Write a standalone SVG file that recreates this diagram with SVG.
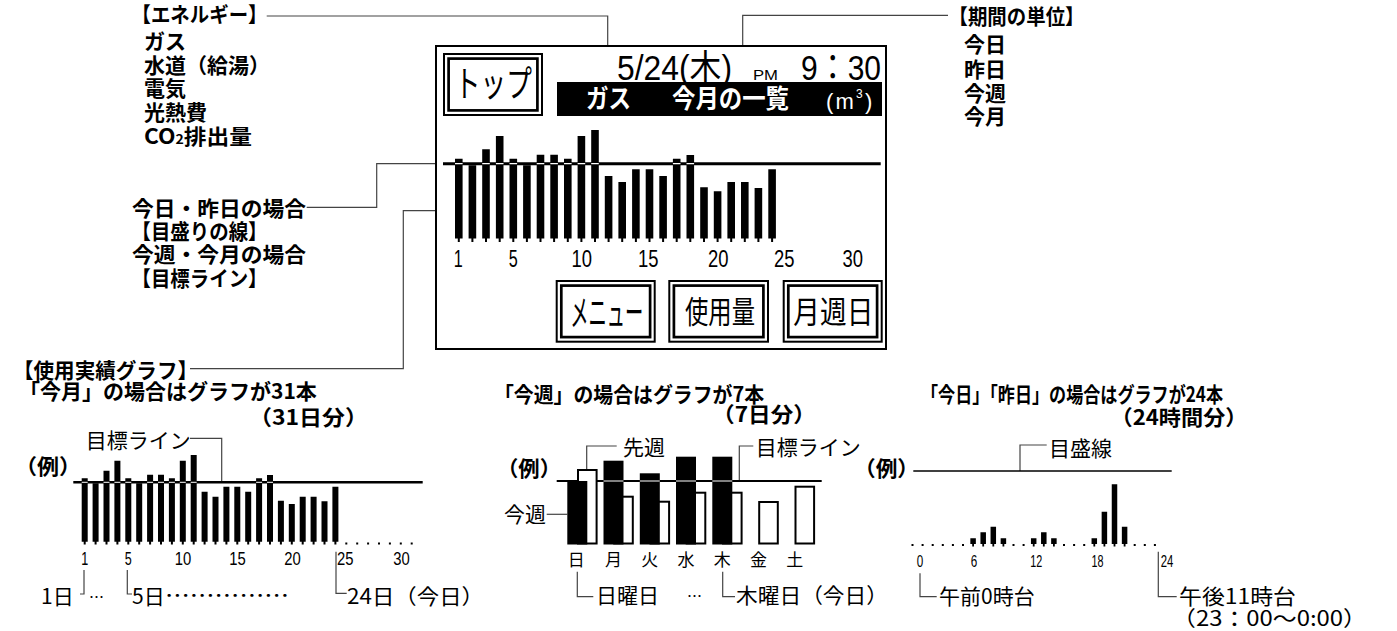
<svg xmlns="http://www.w3.org/2000/svg" width="1397" height="631" viewBox="0 0 1397 631">
<style>
.jb{font-family:'Noto Sans CJK JP','Noto Sans',sans-serif;font-weight:bold;fill:#000}
.jr{font-family:'Noto Sans CJK JP','Noto Sans',sans-serif;font-weight:normal;fill:#000}
.ls{font-family:'Liberation Sans','Noto Sans CJK JP',sans-serif;fill:#000}
.c{fill:none;stroke:#444;stroke-width:1.2}
.frame{fill:#fff;stroke:#000}
.bar{fill:none;stroke:#000}
.wb{fill:#fff;stroke:#000;stroke-width:2}
.w{fill:#fff}
</style>
<rect width="1397" height="631" fill="#fff"/>

<g id="connectors">
<path class="c" d="M266.7 16H607.7V82"/>
<path class="c" d="M948 15.3H742.7V82"/>
<path class="c" d="M306.7 207.3H376.7V163.7H443"/>
<path class="c" d="M190 368.7H403.3V210.7H448"/>
<path class="c" d="M190 438.3H221.7V481"/>
<path class="c" d="M80 594H84V570"/>
<path class="c" d="M127.3 570V594H132"/>
<path class="c" d="M336 551.7V593.3H346.7"/>
<path class="c" d="M586.7 469V446H616.7"/>
<path class="c" d="M739.3 481V446H753.3"/>
<path class="c" d="M546.7 514.3H567.3"/>
<path class="c" d="M577.3 571.7V596.7H593.3"/>
<path class="c" d="M722.7 571.7V596.7H735"/>
<path class="c" d="M1020 471V445H1046.7"/>
<path class="c" d="M920 573.3V596.7H936.7"/>
<path class="c" d="M1158.3 551.7V596.7H1176.7"/>
</g>

<g id="label-energy" class="jb" font-size="21">
<text x="131.5" y="22" textLength="136" lengthAdjust="spacingAndGlyphs">【エネルギー】</text>
<text x="144" y="48.5">ガス</text>
<text x="144" y="72.5">水道（給湯）</text>
<text x="144" y="96">電気</text>
<text x="144" y="119.5">光熱費</text>
<text x="144" y="144" textLength="108" lengthAdjust="spacingAndGlyphs">CO<tspan font-size="13">2</tspan>排出量</text>
</g>

<g id="label-scale" class="jb" font-size="21">
<text x="132" y="215.5" textLength="174" lengthAdjust="spacingAndGlyphs">今日・昨日の場合</text>
<text x="131.5" y="239" textLength="136" lengthAdjust="spacingAndGlyphs">【目盛りの線】</text>
<text x="132" y="262" textLength="174" lengthAdjust="spacingAndGlyphs">今週・今月の場合</text>
<text x="131.5" y="285.5" textLength="136" lengthAdjust="spacingAndGlyphs">【目標ライン】</text>
</g>

<g id="label-period" class="jb" font-size="21">
<text x="948.5" y="24" textLength="136" lengthAdjust="spacingAndGlyphs">【期間の単位】</text>
<text x="964" y="52">今日</text>
<text x="964" y="77">昨日</text>
<text x="964" y="100.5">今週</text>
<text x="964" y="124">今月</text>
</g>

<g id="screen">
<rect class="frame" x="436" y="46" width="450" height="303" stroke-width="2"/>
<g id="btn-top">
<rect class="frame" x="444" y="54" width="98" height="61" stroke-width="2"/>
<rect class="frame" x="448.6" y="58.6" width="88.8" height="51.8" stroke-width="2.7"/>
<text class="jr" font-size="36" text-anchor="middle" transform="translate(493.3 97) scale(0.713 1)">トップ</text>
</g>
<text class="ls" x="617" y="80" font-size="35" textLength="115" lengthAdjust="spacingAndGlyphs">5/24(木)</text>
<text class="ls" x="753" y="80" font-size="15" textLength="25" lengthAdjust="spacingAndGlyphs">PM</text>
<text class="ls" x="801" y="80" font-size="35" textLength="80" lengthAdjust="spacingAndGlyphs">9：30</text>
<g id="title-bar">
<rect x="557" y="82" width="325" height="34" fill="#000"/>
<text class="jb w" x="586" y="108" font-size="26" textLength="45" lengthAdjust="spacingAndGlyphs">ガス</text>
<text class="jb w" x="672" y="108" font-size="26" textLength="117" lengthAdjust="spacingAndGlyphs">今月の一覧</text>
<text class="ls w" x="826" y="109" font-size="22">(</text>
<text class="ls w" x="835.5" y="109" font-size="22">m</text>
<text class="ls w" x="856" y="97.5" font-size="12">3</text>
<text class="ls w" x="865" y="109" font-size="22">)</text>
</g>
<g id="screen-graph">
<path d="M443 163.7H880.7" stroke="#000" stroke-width="3"/>
<path class="bar" stroke-width="7.6" d="M458.8 158.7V238.5M472.4 165.3V238.5M486 149.3V238.5M499.7 136V238.5M513.3 158.7V238.5M526.9 165.3V238.5M540.5 154.7V238.5M554.1 154.7V238.5M567.8 158.7V238.5M581.4 136V238.5M595 130V238.5M608.6 176V238.5M622.2 182V238.5M635.9 169.3V238.5M649.5 169.3V238.5M663.1 176V238.5M676.7 158.7V238.5M690.3 155V238.5M704 187.3V238.5M717.6 191.3V238.5M731.2 182V238.5M744.8 182V238.5M758.4 188V238.5M772.1 169.3V238.5"/>
<path class="bar" stroke-width="2" d="M458.8 238V242M472.4 238V242M486 238V242M499.7 238V242M513.3 238V242M526.9 238V242M540.5 238V242M554.1 238V242M567.8 238V242M581.4 238V242M595 238V242M608.6 238V242M622.2 238V242M635.9 238V242M649.5 238V242M663.1 238V242M676.7 238V242M690.3 238V242M704 238V242M717.6 238V242M731.2 238V242M744.8 238V242M758.4 238V242M772.1 238V242"/>
<path stroke="#fff" stroke-width="1.2" d="M455 163.7h7.6M482.2 163.7h7.6M495.9 163.7h7.6M509.5 163.7h7.6M536.7 163.7h7.6M550.3 163.7h7.6M564 163.7h7.6M577.6 163.7h7.6M591.2 163.7h7.6M672.9 163.7h7.6M686.5 163.7h7.6"/>
<g class="ls" font-size="23" text-anchor="middle">
<text x="458.3" y="267.3" textLength="9" lengthAdjust="spacingAndGlyphs">1</text>
<text x="513.3" y="267.3" textLength="9" lengthAdjust="spacingAndGlyphs">5</text>
<text x="581.7" y="267.3" textLength="20.5" lengthAdjust="spacingAndGlyphs">10</text>
<text x="648.3" y="267.3" textLength="20.5" lengthAdjust="spacingAndGlyphs">15</text>
<text x="718.3" y="267.3" textLength="20.5" lengthAdjust="spacingAndGlyphs">20</text>
<text x="784.3" y="267.3" textLength="20.5" lengthAdjust="spacingAndGlyphs">25</text>
<text x="852.7" y="267.3" textLength="20.5" lengthAdjust="spacingAndGlyphs">30</text>
</g>
</g>
<g id="btn-menu">
<rect class="frame" x="556.7" y="281" width="98" height="60.7" stroke-width="2"/>
<rect class="frame" x="561.3" y="285.6" width="88.8" height="51.5" stroke-width="2.7"/>
<text class="jr" font-size="36" text-anchor="middle" transform="translate(606.7 325.5) scale(0.507 1)">メニュー</text>
</g>
<g id="btn-usage">
<rect class="frame" x="669.3" y="281" width="98.7" height="60.7" stroke-width="2"/>
<rect class="frame" x="673.9" y="285.6" width="89.5" height="51.5" stroke-width="2.7"/>
<text class="jr" font-size="31" text-anchor="middle" transform="translate(720 323) scale(0.753 1)">使用量</text>
</g>
<g id="btn-period">
<rect class="frame" x="783.7" y="281" width="98" height="60.7" stroke-width="2"/>
<rect class="frame" x="788.3" y="285.6" width="88.8" height="51.5" stroke-width="2.7"/>
<text class="jr" font-size="31" text-anchor="middle" transform="translate(833.3 323) scale(0.86 1)">月週日</text>
</g>
</g>

<g id="month-example">
<g class="jb" font-size="21">
<text x="13" y="377.5" textLength="185" lengthAdjust="spacingAndGlyphs">【使用実績グラフ】</text>
<text x="19" y="399">「今月」の場合はグラフが31本</text>
<text x="249" y="425" textLength="119" lengthAdjust="spacingAndGlyphs">（31日分）</text>
<text x="15" y="474" textLength="66" lengthAdjust="spacingAndGlyphs">（例）</text>
</g>
<text class="jr" font-size="21" x="85.7" y="448">目標ライン</text>
<path d="M73.3 482.3H422.7" stroke="#000" stroke-width="2.5"/>
<path class="bar" stroke-width="6" d="M84.7 478.3V541.7M95.6 483.3V541.7M106.5 470.7V541.7M117.4 460.7V541.7M128.3 478.3V541.7M139.2 483.3V541.7M150.1 474.7V541.7M161 474.7V541.7M171.9 478.3V541.7M182.8 460.7V541.7M193.7 455V541.7M204.6 491.7V541.7M215.5 496.7V541.7M226.4 486.7V541.7M237.3 486.7V541.7M248.2 491.7V541.7M259.1 478.3V541.7M270 475V541.7M280.9 500.7V541.7M291.8 504V541.7M302.7 496.7V541.7M313.6 496.7V541.7M324.5 501.3V541.7M335.4 486.7V541.7"/>
<path class="bar" stroke-width="2" d="M84.7 541V544.5M95.6 541V544.5M106.5 541V544.5M117.4 541V544.5M128.3 541V544.5M139.2 541V544.5M150.1 541V544.5M161 541V544.5M171.9 541V544.5M182.8 541V544.5M193.7 541V544.5M204.6 541V544.5M215.5 541V544.5M226.4 541V544.5M237.3 541V544.5M248.2 541V544.5M259.1 541V544.5M270 541V544.5M280.9 541V544.5M291.8 541V544.5M302.7 541V544.5M313.6 541V544.5M324.5 541V544.5M335.4 541V544.5M346.3 542.5V544.5M357.2 542.5V544.5M368.1 542.5V544.5M379 542.5V544.5M389.9 542.5V544.5M400.8 542.5V544.5M411.7 542.5V544.5"/>
<path stroke="#fff" stroke-width="1" d="M81.7 482.3h6M103.5 482.3h6M114.4 482.3h6M125.3 482.3h6M147.1 482.3h6M158 482.3h6M168.9 482.3h6M179.8 482.3h6M190.7 482.3h6M256.1 482.3h6M267 482.3h6"/>
<g class="ls" font-size="18" text-anchor="middle">
<text x="84.7" y="565" textLength="7" lengthAdjust="spacingAndGlyphs">1</text>
<text x="128.3" y="565" textLength="7" lengthAdjust="spacingAndGlyphs">5</text>
<text x="183" y="565" textLength="16.5" lengthAdjust="spacingAndGlyphs">10</text>
<text x="237.5" y="565" textLength="16.5" lengthAdjust="spacingAndGlyphs">15</text>
<text x="292.5" y="565" textLength="16.5" lengthAdjust="spacingAndGlyphs">20</text>
<text x="345.2" y="565" textLength="16.5" lengthAdjust="spacingAndGlyphs">25</text>
<text x="401.5" y="565" textLength="16.5" lengthAdjust="spacingAndGlyphs">30</text>
</g>
<g class="jr" font-size="21">
<text x="41" y="604">1日</text>
<text x="89" y="603" font-size="15">…</text>
<text x="132" y="604">5日</text>
<text x="165" y="603" textLength="124" lengthAdjust="spacingAndGlyphs">……………</text>
<text x="347" y="604" textLength="137" lengthAdjust="spacingAndGlyphs">24日（今日）</text>
</g>
</g>

<g id="week-example">
<g class="jb" font-size="21">
<text x="494" y="401.5" textLength="270" lengthAdjust="spacingAndGlyphs">「今週」の場合はグラフが7本</text>
<text x="712" y="422" textLength="104" lengthAdjust="spacingAndGlyphs">（7日分）</text>
<text x="497" y="476" textLength="64" lengthAdjust="spacingAndGlyphs">（例）</text>
</g>
<g class="jr" font-size="21">
<text x="623" y="455">先週</text>
<text x="755.7" y="455">目標ライン</text>
<text x="504" y="522">今週</text>
</g>
<path d="M556.7 481H821.7" stroke="#000" stroke-width="2"/>
<rect class="wb" x="578" y="470" width="18.6" height="73.5"/>
<rect class="wb" x="614.2" y="496.7" width="18.6" height="46.8"/>
<rect class="wb" x="650.5" y="501.7" width="18.6" height="41.8"/>
<rect class="wb" x="686.7" y="492.7" width="18.6" height="50.8"/>
<rect class="wb" x="723" y="492.7" width="18.6" height="50.8"/>
<rect class="wb" x="759.2" y="502" width="18.6" height="41.5"/>
<rect class="wb" x="795.5" y="486.7" width="18.6" height="56.8"/>
<rect x="567.3" y="481" width="20" height="63.5" fill="#000"/>
<rect x="603.5" y="460.7" width="20" height="83.8" fill="#000"/>
<rect x="639.8" y="473.3" width="20" height="71.2" fill="#000"/>
<rect x="676" y="456.7" width="20" height="87.8" fill="#000"/>
<rect x="712.3" y="456.7" width="20" height="87.8" fill="#000"/>
<path stroke="#fff" stroke-width="1.2" d="M603.5 481h20M639.8 481h20M676 481h20M712.3 481h20"/>
<g class="jr" font-size="17" text-anchor="middle">
<text x="576.3" y="566">日</text>
<text x="613.5" y="566">月</text>
<text x="649.8" y="566">火</text>
<text x="686" y="566">水</text>
<text x="722.3" y="566">木</text>
<text x="758.5" y="566">金</text>
<text x="794.8" y="566">土</text>
</g>
<g class="jr" font-size="21">
<text x="687" y="602" font-size="15">…</text>
<text x="596" y="603">日曜日</text>
<text x="736" y="603" textLength="152" lengthAdjust="spacingAndGlyphs">木曜日（今日）</text>
</g>
</g>

<g id="day-example">
<g class="jb" font-size="21">
<text x="921" y="401.5" textLength="302" lengthAdjust="spacingAndGlyphs">「今日」「昨日」の場合はグラフが24本</text>
<text x="1110.5" y="425" textLength="137" lengthAdjust="spacingAndGlyphs">（24時間分）</text>
<text x="854" y="475.5" textLength="65" lengthAdjust="spacingAndGlyphs">（例）</text>
</g>
<text class="jr" font-size="21" x="1049" y="456">目盛線</text>
<path d="M913.3 471H1171.7" stroke="#000" stroke-width="1.5"/>
<path class="bar" stroke-width="5.5" d="M973.1 538.3V544M983.2 532.3V544M993.3 526.7V544M1003.4 538.3V544M1033.7 538.3V544M1043.8 532.3V544M1053.9 538.3V544M1094.3 538.3V544M1104.4 511.7V544M1114.5 484.3V544M1124.6 526.7V544"/>
<path class="bar" stroke-width="1.8" d="M973.1 543V546.5M983.2 543V546.5M993.3 543V546.5M1003.4 543V546.5M1033.7 543V546.5M1043.8 543V546.5M1053.9 543V546.5M1094.3 543V546.5M1104.4 543V546.5M1114.5 543V546.5M1124.6 543V546.5"/>
<path class="bar" stroke-width="2" d="M912.5 544V546M922.6 544V546M932.7 544V546M942.8 544V546M952.9 544V546M963 544V546M1013.5 544V546M1023.6 544V546M1064 544V546M1074.1 544V546M1084.2 544V546M1134.7 544V546M1144.8 544V546M1154.9 544V546"/>
<g class="ls" font-size="16" text-anchor="middle">
<text x="920" y="566.7" textLength="6.5" lengthAdjust="spacingAndGlyphs">0</text>
<text x="974" y="566.7" textLength="6.5" lengthAdjust="spacingAndGlyphs">6</text>
<text x="1036.2" y="566.7" textLength="12" lengthAdjust="spacingAndGlyphs">12</text>
<text x="1097.5" y="566.7" textLength="12" lengthAdjust="spacingAndGlyphs">18</text>
<text x="1167" y="566.7" textLength="12.6" lengthAdjust="spacingAndGlyphs">24</text>
</g>
<g class="jr" font-size="21">
<text x="939" y="604">午前0時台</text>
<text x="1179" y="604" textLength="117" lengthAdjust="spacingAndGlyphs">午後11時台</text>
<text x="1172" y="626" textLength="195" lengthAdjust="spacingAndGlyphs">（23：00〜0:00）</text>
</g>
</g>
</svg>
